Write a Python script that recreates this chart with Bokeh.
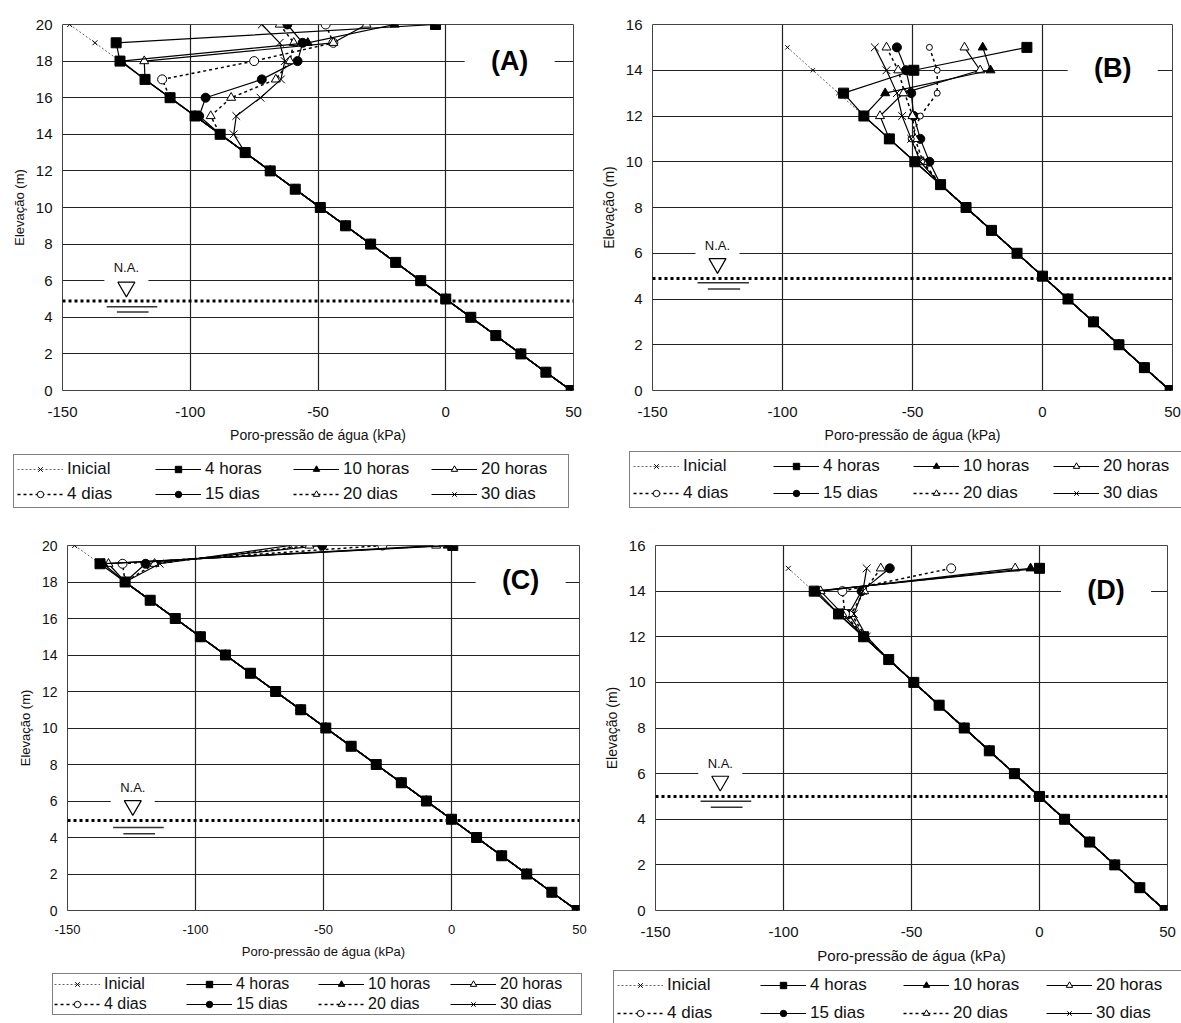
from bokeh.plotting import figure
from bokeh.models import Range1d, FixedTicker, Legend, LegendItem, Label, Span
from bokeh.layouts import row, column
from bokeh.embed import file_html
from bokeh.resources import INLINE

FONT = "Liberation Sans"

SERIES = ["Inicial", "4 horas", "10 horas", "20 horas", "4 dias", "15 dias", "20 dias", "30 dias"]
X_TICKS = [-150, -100, -50, 0, 50]
X_TICK_TEXT = ["-150", "-100", "-50", "0", "50"]
X_GRID = [-100, -50, 0]
X_LABEL = "Poro-pressão de água (kPa)"
Y_LABEL = "Elevação (m)"

# hydrostatic profile read at each elevation 0..20 m (kPa); every curve follows it below its top part
HYDRO = [49.1, 39.2, 29.4, 19.6, 9.8, 0.0, -9.8, -19.6, -29.4, -39.2, -49.1,
         -58.9, -68.7, -78.5, -88.3, -98.1, -107.9, -117.7, -127.5, -137.3, -147.2]

# ---- Panel A: readings from the top elevation downwards
A_ELEV = [20, 19, 18, 17, 16, 15, 14, 13]
A_INICIAL = [-147.2, -137.3, -127.5]
A_4H = [-4.0, -129.0, -127.5]
A_10H = [-20.0, -54.0, -127.0]
A_20H = [-31.0, -44.0, -118.0, -117.7]
A_4D = [-47.0, -44.0, -75.0, -111.0, -107.9]
A_15D = [-62.0, -56.0, -58.0, -72.0, -94.0, -96.5, -88.3]
A_20D = [-65.0, -59.5, -61.0, -66.5, -84.0, -92.0, -88.3]
A_30D = [-72.0, -65.0, -63.0, -64.5, -72.5, -82.0, -83.0, -78.5]

# ---- Panel B
B_ELEV = [15, 14, 13, 12, 11, 10, 9]
B_INICIAL = [-98.1]
B_4H = [-6.0, -49.5, -76.5, -68.7]
B_10H = [-23.0, -20.0, -60.5, -68.7]
B_20H = [-30.0, -24.0, -53.5, -62.5, -58.9]
B_4D = [-43.5, -40.5, -40.5, -47.0, -50.5, -46.5, -39.2]
B_15D = [-56.0, -52.5, -50.5, -49.5, -47.0, -43.5, -39.2]
B_20D = [-60.0, -55.5, -53.0, -50.0, -49.0, -46.0, -39.2]
B_30D = [-64.5, -60.0, -56.0, -54.0, -50.5, -47.0, -39.2]

# ---- Panel C
C_ELEV = [20, 19, 18]
C_INICIAL = [-147.2]
C_4H = [0.5, -137.3]
C_10H = [-1.5, -136.0]
C_20H = [-6.0, -134.0]
C_4D = [-27.0, -128.5, -127.5]
C_15D = [-50.5, -119.5, -127.5]
C_20D = [-55.5, -116.0, -127.5]
C_30D = [-63.0, -114.0, -127.5]

# ---- Panel D
D_ELEV = [15, 14, 13, 12]
D_INICIAL = [-98.1]
D_4H = [0.0, -88.0, -78.5]
D_10H = [-3.5, -87.0, -78.5]
D_20H = [-9.5, -85.5, -77.0, -68.7]
D_4D = [-34.5, -77.0, -76.0, -68.7]
D_15D = [-58.5, -69.5, -74.5, -68.7]
D_20D = [-62.0, -68.5, -73.5, -68.0]
D_30D = [-67.5, -69.0, -72.5, -67.5]

# water table (N.A.) level per panel (m)
WATER_TABLE = {"A": 4.89, "B": 4.9, "C": 4.93, "D": 5.0}

STYLE = {
    "Inicial": dict(lc="#666666", lw=1.0, dash="2 2", marker="x", size=7, fill="black"),
    "4 horas": dict(lc="black", lw=1.2, dash="solid", marker="square", size=10, fill="black"),
    "10 horas": dict(lc="black", lw=1.2, dash="solid", marker="triangle", size=9, fill="black"),
    "20 horas": dict(lc="black", lw=1.2, dash="solid", marker="triangle", size=9, fill="white"),
    "4 dias": dict(lc="black", lw=1.5, dash="3 3", marker="circle", size=9, fill="white"),
    "15 dias": dict(lc="black", lw=1.2, dash="solid", marker="circle", size=9, fill="black"),
    "20 dias": dict(lc="black", lw=1.5, dash="3 3", marker="triangle", size=9, fill="white"),
    "30 dias": dict(lc="black", lw=1.2, dash="solid", marker="x", size=11, fill="black"),
}
DRAW_ORDER = ["Inicial", "15 dias", "20 dias", "4 dias", "20 horas", "10 horas", "4 horas", "30 dias"]


def profile(top_elev, top_vals):
    n = len(top_vals)
    low = top_elev[n - 1]
    below = list(range(low - 1, -1, -1))
    return list(top_vals) + [HYDRO[e] for e in below], list(top_elev[:n]) + below


def add_series(p, elev, data, sizes=None):
    sizes = sizes or {}
    rends = {}
    for s in DRAW_ORDER:
        xs, ys = profile(elev, data[s])
        st = STYLE[s]
        ln = p.line(xs, ys, line_color=st["lc"], line_width=st["lw"], line_dash=st["dash"])
        mk = p.scatter(xs, ys, marker=st["marker"], size=sizes.get(s, st["size"]), fill_color=st["fill"],
                       line_color="black", line_width=1)
        rends[s] = [ln, mk]
    return rends


def make_panel(tag, elev, data, ymax, lay):
    p = figure(width=lay["w"], height=lay["h"], x_range=Range1d(-150, 50), y_range=Range1d(0, ymax),
               output_backend="svg", toolbar_location=None,
               min_border_left=lay["bl"], min_border_right=lay["br"],
               min_border_top=lay["bt"], min_border_bottom=lay["bb"])
    p.outline_line_color = "#444444"
    p.outline_line_width = 1
    p.background_fill_color = "white"
    p.border_fill_color = "white"

    p.xaxis.ticker = FixedTicker(ticks=X_TICKS)
    p.xaxis.major_label_overrides = dict(zip(X_TICKS, X_TICK_TEXT))
    p.yaxis.ticker = FixedTicker(ticks=list(range(0, ymax + 1, 2)))
    for ax in (p.xaxis, p.yaxis):
        ax.axis_line_color = None
        ax.major_tick_line_color = None
        ax.minor_tick_line_color = None
        ax.major_tick_out = 0
        ax.major_tick_in = 0
        ax.major_label_text_font = FONT
        ax.major_label_text_color = "#111111"
        ax.axis_label_text_font = FONT
        ax.axis_label_text_font_style = "normal"
        ax.axis_label_text_color = "#111111"
    p.xaxis.major_label_text_font_size = lay["xt"]
    p.yaxis.major_label_text_font_size = lay["yt"]
    p.xaxis.axis_label = X_LABEL
    p.yaxis.axis_label = Y_LABEL
    p.xaxis.axis_label_text_font_size = lay["xl"]
    p.yaxis.axis_label_text_font_size = lay["yl"]
    p.xaxis.major_label_standoff = lay["xs"]
    p.xaxis.axis_label_standoff = lay["xls"]
    p.yaxis.major_label_standoff = 10
    p.yaxis.axis_label_standoff = 6

    p.xgrid.ticker = FixedTicker(ticks=X_GRID)
    p.ygrid.ticker = FixedTicker(ticks=list(range(2, ymax, 2)))
    for g in (p.xgrid, p.ygrid):
        g.grid_line_color = "#222222"
        g.grid_line_width = 1.2

    # white gaps in grid lines behind the panel tag and the N.A. symbol
    tx, ty = lay["tag"]
    p.rect(x=[tx], y=[ty], width=90, height=14, width_units="screen", height_units="screen",
           fill_color="white", line_color=None)
    nx, ny_text, ny_tri, u1, u2 = lay["na"]
    p.rect(x=[nx], y=[6], width=44, height=8, width_units="screen", height_units="screen",
           fill_color="white", line_color=None)

    add_series(p, elev, data, lay.get("sizes"))

    # water table
    p.add_layout(Span(location=WATER_TABLE[tag], dimension="width", line_color="black",
                      line_width=3, line_dash="3 3"))
    # N.A. symbol
    p.add_layout(Label(x=nx, y=ny_text, text="N.A.", text_font=FONT, text_font_size="13px",
                       text_align="center", text_baseline="middle", text_color="#111111"))
    p.scatter([nx], [ny_tri], marker="inverted_triangle", size=17, fill_color="white",
              line_color="black", line_width=1.2)
    p.segment(x0=[nx - 7.7, nx - 3.7], y0=[u1, u2], x1=[nx + 12.1, nx + 8.7], y1=[u1, u2],
              line_color="#333333", line_width=1.5)

    # panel tag
    p.add_layout(Label(x=tx, y=ty, text="(" + tag + ")", text_font=FONT, text_font_size="27px",
                       text_font_style="bold", text_color="black",
                       text_align="center", text_baseline="middle"))
    return p


def make_legend_strip(height, elev, data, specs):
    # a strip that only carries the legends; its series lie outside its own visible y range
    q = figure(width=1181, height=height, x_range=Range1d(-150, 50), y_range=Range1d(100, 101),
               output_backend="svg", toolbar_location=None, x_axis_type=None, y_axis_type=None,
               min_border_left=0, min_border_right=0, min_border_top=0, min_border_bottom=0)
    q.grid.visible = False
    q.outline_line_color = None
    q.border_fill_color = "white"
    q.background_fill_color = "white"
    rends = add_series(q, elev, data)
    for lay in specs:
        leg = Legend(items=[LegendItem(label=s, renderers=rends[s]) for s in SERIES],
                     location=lay["leg"], orientation="horizontal", ncols=4,
                     border_line_color="black", border_line_width=1.2,
                     background_fill_color="white", background_fill_alpha=1.0,
                     label_text_font=FONT, label_text_font_size=lay["lfs"], label_text_color="#111111",
                     glyph_width=46, glyph_height=16, label_standoff=4, label_width=lay["lw"],
                     label_height=lay["lh"], spacing=lay["sp"], padding=lay["pad"], margin=0)
        q.add_layout(leg)
    return q


LAYOUT = {
    "A": dict(w=590, h=450, bl=62, br=17, bt=24, bb=60, xt="15px", yt="15px", xl="14px", yl="13px",
              xs=16, xls=7, tag=(25, 18), na=(-125, 6.7, 5.65, 4.58, 4.29),
              leg=(13, 17), lfs="17px", lw=84, lh=21, sp=4, pad=3),
    "B": dict(w=591, h=450, bl=62, br=9, bt=24, bb=60, xt="15px", yt="15px", xl="14px", yl="14px",
              xs=16, xls=7, tag=(27, 14.1), na=(-125, 6.36, 5.55, 4.71, 4.44),
              sizes={"4 dias": 6, "Inicial": 6},
              leg=(629, 17), lfs="17px", lw=85, lh=22, sp=5, pad=3),
    "C": dict(w=600, h=445, bl=67, br=21, bt=20, bb=60, xt="13px", yt="14px", xl="13px", yl="13px",
              xs=14, xls=7, tag=(27, 18.1), na=(-124.5, 6.74, 5.75, 4.55, 4.2),
              leg=(52, 8), lfs="16px", lw=80, lh=18, sp=2, pad=1),
    "D": dict(w=581, h=445, bl=55, br=14, bt=20, bb=60, xt="15px", yt="15px", xl="15px", yl="14px",
              xs=16, xls=7, tag=(26, 14.07), na=(-124.7, 6.46, 5.67, 4.79, 4.53),
              leg=(613, -5), lfs="17px", lw=87, lh=22, sp=6, pad=3),
}

DATA = {
    "A": (A_ELEV, dict(zip(SERIES, [A_INICIAL, A_4H, A_10H, A_20H, A_4D, A_15D, A_20D, A_30D])), 20),
    "B": (B_ELEV, dict(zip(SERIES, [B_INICIAL, B_4H, B_10H, B_20H, B_4D, B_15D, B_20D, B_30D])), 16),
    "C": (C_ELEV, dict(zip(SERIES, [C_INICIAL, C_4H, C_10H, C_20H, C_4D, C_15D, C_20D, C_30D])), 20),
    "D": (D_ELEV, dict(zip(SERIES, [D_INICIAL, D_4H, D_10H, D_20H, D_4D, D_15D, D_20D, D_30D])), 16),
}

panels = {}
for k in "ABCD":
    elev, data, ymax = DATA[k]
    panels[k] = make_panel(k, elev, data, ymax, LAYOUT[k])

strip_top = make_legend_strip(75, DATA["A"][0], DATA["A"][1], [LAYOUT["A"], LAYOUT["B"]])
strip_bot = make_legend_strip(53, DATA["C"][0], DATA["C"][1], [LAYOUT["C"], LAYOUT["D"]])

page = column(row(panels["A"], panels["B"]), strip_top, row(panels["C"], panels["D"]), strip_bot)
open("out.html", "w").write(file_html(page, INLINE))
